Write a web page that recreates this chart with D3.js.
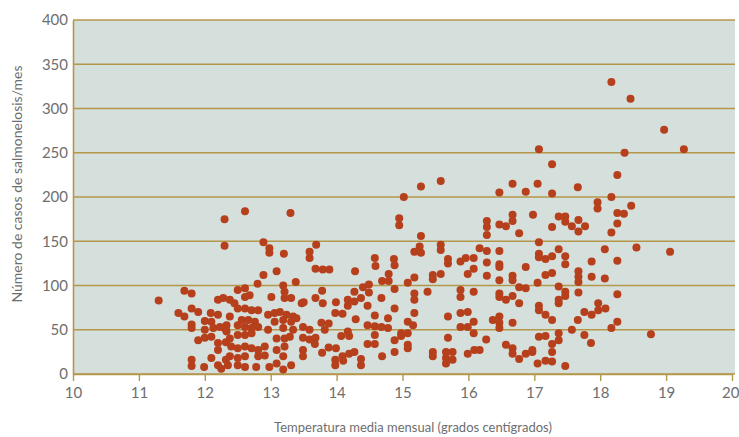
<!DOCTYPE html>
<html>
<head>
<meta charset="utf-8">
<script src="https://cdn.jsdelivr.net/npm/d3@7"></script>
<style>
	body { margin: 0; background: #fff; }
	svg { display: block; }
	.tick text { font-family: Lato, sans-serif; fill: #6e6e6e; }
</style>
</head>
<body>
<div id="chart"></div>
<script>
// temperatura media mensual (grados)
const temps = [
	12.61, 12.30, 12.89, 12.98, 12.98, 12.30, 13.09, 12.89, 12.80,
	11.30, 11.69, 11.80, 11.60, 11.69, 11.80, 11.90, 11.80, 11.80, 12.00, 12.09, 12.20, 12.28, 12.20, 12.10, 12.13,
	12.00, 12.23, 12.32, 11.90, 12.10, 12.20, 12.20, 12.10, 11.80, 11.80, 11.99, 12.20, 12.25, 12.32, 12.32, 12.00,
	13.20, 13.38, 13.19, 12.50, 12.61, 12.68, 12.61, 13.01, 13.21, 13.21, 13.31, 12.38, 12.45, 12.50, 12.61, 12.71,
	12.81, 13.47, 12.96, 13.06, 13.14, 13.24, 13.34, 12.38, 12.56, 12.66, 12.76, 12.50, 12.61, 12.71, 12.81, 13.06,
	13.19, 13.31, 13.39, 12.33, 12.33, 12.96, 13.19, 13.34, 12.50, 12.61, 12.71, 12.38, 13.09, 13.21, 13.29, 12.40,
	12.50, 12.61, 12.71, 12.81, 12.91, 13.09, 13.21, 12.38, 12.50, 12.61, 12.81, 12.91, 13.19, 12.50, 12.61, 12.78,
	12.98, 13.09, 13.19, 13.31, 12.35,
	13.59, 13.59, 13.68, 13.79, 13.89, 14.58, 14.59, 14.87, 14.88, 14.28, 14.79, 14.69, 14.79, 13.78, 14.40, 14.49,
	14.49, 14.88, 14.27, 13.50, 13.68, 13.79, 13.99, 14.17, 14.17, 14.27, 14.37, 14.68, 14.47, 13.98, 14.09, 14.88,
	14.58, 14.78, 14.29, 13.77, 13.88, 13.49, 13.59, 14.47, 14.58, 14.68, 14.78, 13.82, 14.17, 14.07, 14.19, 13.49,
	13.59, 13.68, 13.67, 14.58, 14.47, 14.58, 14.88, 14.98, 13.49, 13.49, 13.88, 13.99, 13.78, 14.19, 14.27, 14.09,
	13.98, 13.98, 14.10, 14.37, 14.37, 14.69, 14.88,
	15.02, 14.95, 14.95, 13.30, 13.69,
	15.28, 15.58, 16.67, 16.47, 16.87, 17.05, 16.28, 16.28, 16.28, 16.47, 16.57, 16.67, 16.67, 16.77, 15.28, 15.26,
	15.18, 15.28, 15.58, 15.58, 16.17, 16.28, 16.47, 15.69, 15.69, 15.88, 15.96, 16.08, 16.28, 16.47, 16.47, 16.08,
	16.87, 15.46, 15.46, 15.58, 15.18, 15.08, 15.99, 16.28, 16.47, 16.67, 16.67, 17.05, 15.38, 15.18, 15.18, 15.88,
	15.88, 16.08, 16.47, 16.47, 16.57, 16.67, 16.77, 16.87, 16.77, 15.18, 15.88, 15.99, 15.69, 15.08, 15.16, 15.88,
	15.99, 16.08, 16.37, 16.47, 16.47, 16.47, 16.67, 14.98, 15.08, 16.08, 15.08, 15.08, 15.69, 16.27, 16.57, 16.67,
	16.67, 15.46, 15.46, 15.66, 15.66, 15.76, 15.76, 15.66, 15.99, 16.09, 16.17, 16.77, 16.87, 16.97, 17.05,
	17.07, 18.37, 17.27, 18.26, 17.66, 17.27, 18.17, 17.96, 17.96, 18.47, 18.26, 18.36, 16.98, 17.37, 17.47, 17.47,
	17.57, 17.67, 17.77, 17.67, 17.27, 18.26, 18.17, 17.07, 18.07, 18.55, 17.37, 17.07, 17.07, 17.17, 17.27, 17.47,
	17.47, 17.87, 18.26, 17.17, 17.27, 17.67, 17.67, 17.67, 17.87, 18.07, 17.37, 17.47, 17.47, 17.67, 18.26, 17.37,
	17.37, 17.07, 17.07, 17.17, 17.27, 17.76, 17.87, 17.97, 17.97, 18.08, 17.66, 18.26, 18.17, 17.57, 17.07, 17.17,
	17.37, 17.76, 17.86, 18.77, 16.97, 17.27, 17.27, 17.37, 17.17, 17.27, 17.47,
	18.17, 18.46, 18.97, 19.27, 19.06
];
// casos de salmonelosis por mes
const cases = [
	184, 175, 149, 142, 137, 145, 116, 112, 102,
	83, 94, 91, 69, 65, 74, 70, 56, 52, 60, 69, 84, 86, 67, 59, 52,
	50, 53, 50, 38, 42, 35, 27, 18, 16, 9, 8, 10, 6, 16, 36, 41,
	136, 104, 100, 95, 97, 89, 87, 87, 93, 86, 86, 84, 80, 74, 74, 72,
	72, 80, 67, 69, 70, 67, 65, 65, 61, 61, 59, 55, 53, 52, 53, 59,
	61, 59, 63, 55, 48, 50, 52, 50, 44, 44, 46, 40, 40, 40, 42, 31,
	29, 31, 29, 27, 31, 27, 31, 20, 18, 20, 20, 21, 20, 10, 8, 8,
	8, 12, 5, 10, 10,
	138, 131, 119, 118, 118, 131, 122, 130, 123, 116, 113, 105, 105, 94, 98, 101,
	92, 96, 93, 81, 86, 80, 81, 84, 77, 82, 86, 86, 77, 69, 68, 74,
	66, 63, 62, 58, 57, 53, 50, 55, 54, 53, 52, 50, 48, 43, 43, 41,
	39, 41, 34, 44, 34, 34, 38, 43, 27, 20, 30, 29, 24, 23, 25, 20,
	16, 10, 15, 17, 10, 20, 25,
	200, 176, 168, 182, 146,
	212, 218, 215, 205, 206, 215, 173, 166, 157, 169, 167, 180, 173, 159, 156, 144,
	138, 137, 146, 140, 142, 139, 139, 130, 125, 127, 131, 131, 126, 124, 121, 119,
	121, 112, 107, 113, 109, 103, 113, 111, 106, 111, 106, 103, 93, 91, 84, 95,
	87, 93, 91, 87, 84, 88, 98, 97, 80, 69, 69, 70, 65, 59, 55, 53,
	53, 59, 61, 65, 58, 52, 58, 46, 46, 46, 33, 29, 41, 39, 33, 29,
	23, 25, 20, 25, 18, 25, 16, 12, 23, 27, 27, 17, 23, 25, 12,
	254, 250, 237, 225, 211, 204, 200, 194, 187, 190, 182, 181, 180, 178, 178, 172,
	167, 174, 167, 161, 166, 170, 160, 149, 141, 143, 141, 136, 132, 130, 133, 133,
	124, 127, 128, 112, 114, 116, 110, 104, 110, 108, 99, 93, 88, 92, 90, 84,
	80, 77, 72, 67, 61, 70, 67, 80, 72, 74, 61, 59, 52, 50, 42, 43,
	46, 44, 35, 45, 27, 34, 25, 38, 15, 14, 9,
	330, 311, 276, 254, 138
];
const xTicks = [10, 11, 12, 13, 14, 15, 16, 17, 18, 19, 20];
const yTicks = [0, 50, 100, 150, 200, 250, 300, 350, 400];

const W = 739, H = 437;
const m = { left: 73, right: 6, top: 20, bottom: 63 };
const gold = '#b4974a';

const svg = d3.select('#chart').append('svg')
	.attr('width', W)
	.attr('height', H);

const x = d3.scaleLinear().domain([10, 20]).range([m.left, 732]);
const y = d3.scaleLinear().domain([0, 400]).range([H - m.bottom, m.top]);

// fondo del área
svg.append('rect')
	.attr('x', m.left).attr('y', m.top)
	.attr('width', W - m.right - m.left + 2)
	.attr('height', y(0) - m.top)
	.attr('fill', '#d5dfdb');

// rejilla horizontal
svg.append('g')
	.selectAll('line')
	.data(yTicks)
	.enter()
	.append('line')
	.attr('x1', m.left).attr('x2', W - m.right + 2)
	.attr('y1', d => y(d)).attr('y2', d => y(d))
	.attr('stroke', gold)
	.attr('stroke-width', 1.6);

// eje y
const yAxis = svg.append('g')
	.attr('transform', `translate(${m.left},0)`)
	.call(d3.axisLeft(y).tickValues(yTicks).tickSize(0).tickPadding(5));
yAxis.select('.domain').attr('stroke', gold).attr('stroke-width', 1.6);
yAxis.selectAll('text').attr('font-size', 15);

// eje x
const xAxis = svg.append('g')
	.attr('transform', `translate(0,${y(0)})`)
	.call(d3.axisBottom(x).tickValues(xTicks).tickSize(7).tickPadding(6).tickSizeOuter(0));
xAxis.select('.domain').attr('stroke', gold).attr('stroke-width', 1.6);
xAxis.selectAll('line').attr('stroke', gold).attr('stroke-width', 1.4);
xAxis.selectAll('text').attr('font-size', 15);
// el "20" queda pegado al borde
xAxis.selectAll('.tick text').filter(d => d == 20).attr('text-anchor', 'end').attr('dx', 7);

// puntos
svg.append('g')
	.selectAll('circle')
	.data(temps.map((t, i) => [t, cases[i]]))
	.enter()
	.append('circle')
	.attr('cx', d => x(d[0]))
	.attr('cy', d => y(d[1]))
	.attr('r', 4)
	.attr('fill', '#b63f1c');

// títulos
svg.append('text')
	.attr('x', 413).attr('y', 432)
	.attr('text-anchor', 'middle')
	.attr('font-family', 'Lato, sans-serif')
	.attr('font-size', 13)
	.attr('fill', '#6e6e6e')
	.text('Temperatura media mensual (grados centígrados)');

svg.append('text')
	.attr('transform', 'translate(22,184) rotate(-90)')
	.attr('text-anchor', 'middle')
	.attr('font-family', 'Lato, sans-serif')
	.attr('font-size', 14)
	.attr('fill', '#6e6e6e')
	.text('Número de casos de salmonelosis/mes');
</script>
</body>
</html>
